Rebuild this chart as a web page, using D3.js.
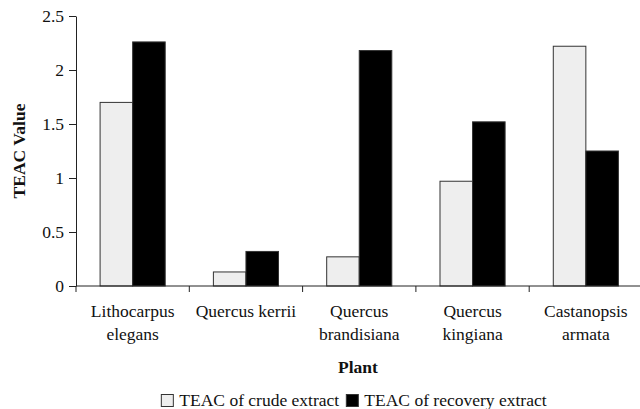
<!DOCTYPE html>
<html>
<head>
<meta charset="utf-8">
<script src="https://cdn.jsdelivr.net/npm/d3@7"></script>
</head>
<body style="margin:0;background:#fff">
<div id="chart"></div>
<script>
// data
const plants = [
  ["Lithocarpus", "elegans"],
  ["Quercus kerrii"],
  ["Quercus", "brandisiana"],
  ["Quercus", "kingiana"],
  ["Castanopsis", "armata"]
];
const seriesNames = ["TEAC of crude extract", "TEAC of recovery extract"];
const crude = [1.70, 0.13, 0.27, 0.97, 2.22];
const recovery = [2.26, 0.32, 2.18, 1.52, 1.25];
const yTicks = [0, 0.5, 1, 1.5, 2, 2.5];

const FONT = 'Tinos, FreeSerif, "Liberation Serif", serif';
const FS = "17.5px";
const FILLS = ["#eeeeee", "#000000"];
const width = 640, height = 409;
const margin = { top: 16, left: 76, bottom: 123, right: -2.5 };
const innerBottom = height - margin.bottom;

const keys = plants.map(p => p.join(" "));
const data = keys.map((k, i) => ({ key: k, values: [crude[i], recovery[i]] }));

const svg = d3.select("#chart").append("svg")
  .attr("width", width)
  .attr("height", height)
  .style("display", "block")
  .style("font-family", FONT);

const x0 = d3.scaleBand()
  .domain(keys)
  .range([margin.left, width - margin.right])
  .padding(0);

const x1 = d3.scaleBand()
  .domain(seriesNames)
  .range([0, x0.bandwidth()])
  .paddingInner(0)
  .paddingOuter(0.74);

const y = d3.scaleLinear()
  .domain([0, 2.5])
  .range([innerBottom, margin.top]);

// bars
const groups = svg.append("g").selectAll("g")
  .data(data)
  .join("g")
    .attr("transform", d => `translate(${x0(d.key)},0)`);

groups.selectAll("rect")
  .data(d => d.values.map((v, j) => ({ name: seriesNames[j], v, j })))
  .join("rect")
    .attr("x", d => x1(d.name))
    .attr("y", d => y(d.v))
    .attr("width", x1.bandwidth())
    .attr("height", d => y(0) - y(d.v))
    .attr("fill", d => FILLS[d.j])
    .attr("stroke", "#333")
    .attr("stroke-width", 1);

// y axis
const yAxis = svg.append("g")
  .attr("transform", `translate(${margin.left},0)`)
  .call(d3.axisLeft(y).tickValues(yTicks).tickSize(7).tickSizeOuter(0).tickPadding(5)
    .tickFormat(d3.format("")));
yAxis.attr("font-family", null).attr("font-size", null);
yAxis.select(".domain").attr("stroke", "#222");
yAxis.selectAll(".tick line").attr("stroke", "#222");
yAxis.selectAll("text")
  .style("font-family", FONT)
  .style("font-size", FS)
  .attr("fill", "#111");

// x axis with ticks at category boundaries
const xAxis = svg.append("g")
  .attr("transform", `translate(0,${innerBottom})`);
xAxis.append("line")
  .attr("x1", margin.left).attr("x2", width)
  .attr("stroke", "#222");
const bounds = keys.map(k => x0(k)).concat([x0(keys[keys.length - 1]) + x0.bandwidth()]);
xAxis.selectAll(".bt")
  .data(bounds)
  .join("line")
    .attr("class", "bt")
    .attr("x1", d => d).attr("x2", d => d)
    .attr("y1", 0).attr("y2", 6)
    .attr("stroke", "#222");

const labels = xAxis.selectAll(".lab")
  .data(plants)
  .join("text")
    .attr("class", "lab")
    .attr("text-anchor", "middle")
    .style("font-family", FONT)
    .style("font-size", FS)
    .attr("fill", "#111")
    .attr("transform", (d, i) => `translate(${x0(keys[i]) + x0.bandwidth() / 2},31)`);
labels.selectAll("tspan")
  .data(d => d)
  .join("tspan")
    .attr("x", 0)
    .attr("y", (d, i) => i * 23)
    .text(d => d);

// axis titles
svg.append("text")
  .attr("transform", `translate(25,${(margin.top + innerBottom) / 2}) rotate(-90)`)
  .attr("text-anchor", "middle")
  .style("font-family", FONT)
  .style("font-size", FS)
  .style("font-weight", "bold")
  .attr("fill", "#111")
  .text("TEAC Value");

svg.append("text")
  .attr("x", 358)
  .attr("y", 373)
  .attr("text-anchor", "middle")
  .style("font-family", FONT)
  .style("font-size", FS)
  .style("font-weight", "bold")
  .attr("fill", "#111")
  .text("Plant");

// legend
const legend = svg.append("g").attr("transform", "translate(0,406)");
const items = legend.selectAll("g")
  .data(seriesNames)
  .join("g");
items.append("rect")
  .attr("y", -11.5)
  .attr("width", 12)
  .attr("height", 12)
  .attr("fill", (d, i) => FILLS[i])
  .attr("stroke", "#333");
items.append("text")
  .attr("x", 18)
  .style("font-family", FONT)
  .style("font-size", FS)
  .attr("fill", "#111")
  .text(d => d);
// lay items out in a centred row
let offs = [], total = 0;
items.each(function () {
  const w = this.getBBox().width;
  offs.push(total);
  total += w + 7;
});
total -= 7;
const start = 354 - total / 2;
items.attr("transform", (d, i) => `translate(${start + offs[i]},0)`);
</script>
</body>
</html>
